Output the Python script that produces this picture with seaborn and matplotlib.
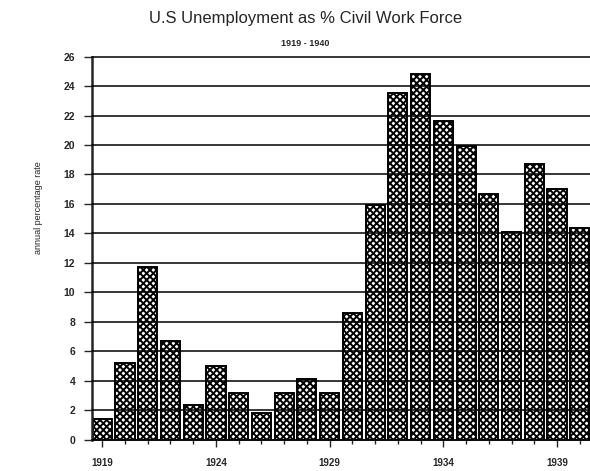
import pandas as pd
import seaborn as sns
import matplotlib.pyplot as plt

# US unemployment, % of civil work force
years = list(range(1919, 1941))
rate = [1.4, 5.2, 11.7, 6.7, 2.4, 5.0, 3.2, 1.8, 3.2, 4.1, 3.2,
        8.6, 15.9, 23.5, 24.8, 21.6, 19.9, 16.7, 14.1, 18.7, 17.0, 14.4]
label_years = [1919, 1924, 1929, 1934, 1939]

df = pd.DataFrame({"year": years, "rate": rate})

sns.set_style("white")
plt.rcParams['font.family'] = ['Liberation Sans', 'DejaVu Sans']
plt.rcParams['hatch.linewidth'] = 1.4

fig = plt.figure(figsize=(5.9, 4.71), dpi=100)
ax = fig.add_axes([0.156, 0.066, 0.844, 0.814])

sns.barplot(data=df, x="year", y="rate", color="white", edgecolor="black",
            linewidth=1.4, hatch="xxxxx", width=0.84, ax=ax, zorder=2)

# horizontal rules over the bars
for v in range(0, 27, 2):
    ax.axhline(v, color="black", lw=1.1, zorder=3, clip_on=False)

ax.set_ylim(0, 26)
ax.set_xlim(-0.45, len(years) - 0.55)
ax.set_yticks(range(0, 27, 2))
ax.set_yticklabels([str(v) for v in range(0, 27, 2)], fontsize=7.5, fontweight="bold")

pos = list(range(len(years)))
ax.set_xticks(pos, minor=True)
ax.set_xticks([years.index(y) for y in label_years])
ax.set_xticklabels([str(y) for y in label_years], fontsize=7, fontweight="bold")
ax.tick_params(axis="x", which="major", direction="out", length=5, width=1, pad=8, bottom=True)
ax.tick_params(axis="x", which="minor", direction="out", length=3, width=1, bottom=True)
ax.tick_params(axis="y", direction="out", length=6, width=1, left=True, pad=6)

for s in ["top", "right"]:
    ax.spines[s].set_visible(False)
ax.spines["left"].set_linewidth(1.8)
ax.spines["bottom"].set_linewidth(1.3)
ax.set_xlabel("")
ax.set_ylabel("")

fig.text(0.065, 0.56, "annual percentage rate", rotation=90, ha="center", va="center", fontsize=6.5)
fig.text(0.518, 0.96, "U.S Unemployment as % Civil Work Force", ha="center", va="center", fontsize=12)
fig.text(0.518, 0.908, "1919 - 1940", ha="center", va="center", fontsize=6.5, fontweight="bold")

fig.savefig("out.png", dpi=100)
